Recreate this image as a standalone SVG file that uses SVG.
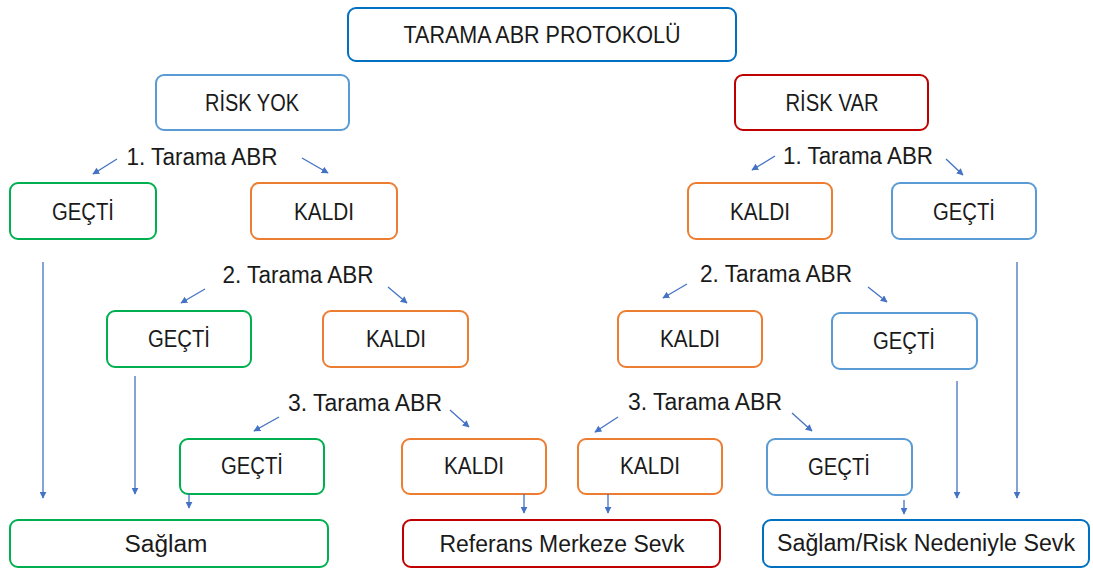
<svg xmlns="http://www.w3.org/2000/svg" width="1093" height="570" viewBox="0 0 1093 570">
<defs>
<marker id="ah" viewBox="0 0 10 10" refX="9" refY="5" markerWidth="7" markerHeight="7" markerUnits="userSpaceOnUse" orient="auto">
<path d="M0,0 L10,5 L0,10 z" fill="#4472C4"/>
</marker>
<style>
.box{fill:#fff;stroke-width:2;}
.dk{stroke:#0070C0;}
.lb{stroke:#5B9BD5;}
.rd{stroke:#C00000;}
.gr{stroke:#00B050;}
.or{stroke:#ED7D31;}
text{font-family:"Liberation Sans",Arial,sans-serif;font-size:23px;fill:#1a1a1a;text-anchor:middle;dominant-baseline:central;}
.c line{stroke:#4472C4;stroke-width:1.3;marker-end:url(#ah);}
</style>
</defs>
<rect width="1093" height="570" fill="#fff"/>
<g id="protokol"><rect class="box dk" x="348" y="8" width="388" height="53" rx="8"/><text x="542" y="35" textLength="277" lengthAdjust="spacingAndGlyphs">TARAMA ABR PROTOKOLÜ</text></g>
<g id="riskyok"><rect class="box lb" x="156" y="75" width="193" height="55" rx="8"/><text x="252" y="103" textLength="94" lengthAdjust="spacingAndGlyphs">RİSK YOK</text></g>
<g id="riskvar"><rect class="box rd" x="735" y="75" width="193" height="55" rx="8"/><text x="832" y="103" textLength="93" lengthAdjust="spacingAndGlyphs">RİSK VAR</text></g>

<g id="l1gecti"><rect class="box gr" x="10" y="183" width="146" height="56" rx="8"/><text x="83" y="212" textLength="62" lengthAdjust="spacingAndGlyphs">GEÇTİ</text></g>
<g id="l1kaldi"><rect class="box or" x="251" y="183" width="146" height="56" rx="8"/><text x="324" y="212" textLength="60" lengthAdjust="spacingAndGlyphs">KALDI</text></g>
<g id="r1kaldi"><rect class="box or" x="688" y="183" width="144" height="56" rx="8"/><text x="760" y="212" textLength="60" lengthAdjust="spacingAndGlyphs">KALDI</text></g>
<g id="r1gecti"><rect class="box lb" x="892" y="183" width="144" height="56" rx="8"/><text x="964" y="212" textLength="62" lengthAdjust="spacingAndGlyphs">GEÇTİ</text></g>

<g id="l2gecti"><rect class="box gr" x="107" y="311" width="144" height="56" rx="8"/><text x="179" y="339" textLength="62" lengthAdjust="spacingAndGlyphs">GEÇTİ</text></g>
<g id="l2kaldi"><rect class="box or" x="323" y="311" width="145" height="56" rx="8"/><text x="396" y="339" textLength="60" lengthAdjust="spacingAndGlyphs">KALDI</text></g>
<g id="r2kaldi"><rect class="box or" x="618" y="311" width="144" height="56" rx="8"/><text x="690" y="339" textLength="60" lengthAdjust="spacingAndGlyphs">KALDI</text></g>
<g id="r2gecti"><rect class="box lb" x="832" y="313" width="145" height="56" rx="8"/><text x="904" y="341" textLength="62" lengthAdjust="spacingAndGlyphs">GEÇTİ</text></g>

<g id="l3gecti"><rect class="box gr" x="180" y="439" width="144" height="55" rx="8"/><text x="252" y="466" textLength="62" lengthAdjust="spacingAndGlyphs">GEÇTİ</text></g>
<g id="l3kaldi"><rect class="box or" x="402" y="439" width="144" height="55" rx="8"/><text x="474" y="466" textLength="60" lengthAdjust="spacingAndGlyphs">KALDI</text></g>
<g id="r3kaldi"><rect class="box or" x="578" y="439" width="144" height="55" rx="8"/><text x="650" y="466" textLength="60" lengthAdjust="spacingAndGlyphs">KALDI</text></g>
<g id="r3gecti"><rect class="box lb" x="767" y="439" width="145" height="56" rx="8"/><text x="839" y="467" textLength="62" lengthAdjust="spacingAndGlyphs">GEÇTİ</text></g>

<g id="saglam"><rect class="box gr" x="10" y="520" width="318" height="47" rx="8"/><text x="166" y="544" textLength="83" lengthAdjust="spacingAndGlyphs">Sağlam</text></g>
<g id="referans"><rect class="box rd" x="403" y="520" width="317" height="47" rx="8"/><text x="562" y="544" textLength="245" lengthAdjust="spacingAndGlyphs">Referans Merkeze Sevk</text></g>
<g id="saglamrisk"><rect class="box dk" x="763" y="520" width="326" height="47" rx="8"/><text x="926" y="543" textLength="298" lengthAdjust="spacingAndGlyphs">Sağlam/Risk Nedeniyle Sevk</text></g>

<g id="labels">
<text x="202" y="157" textLength="151" lengthAdjust="spacingAndGlyphs">1. Tarama ABR</text>
<text x="858" y="156" textLength="150" lengthAdjust="spacingAndGlyphs">1. Tarama ABR</text>
<text x="298" y="275" textLength="151" lengthAdjust="spacingAndGlyphs">2. Tarama ABR</text>
<text x="776" y="274" textLength="152" lengthAdjust="spacingAndGlyphs">2. Tarama ABR</text>
<text x="365" y="403" textLength="154" lengthAdjust="spacingAndGlyphs">3. Tarama ABR</text>
<text x="705" y="402" textLength="154" lengthAdjust="spacingAndGlyphs">3. Tarama ABR</text>
</g>

<g id="connectors" class="c">
<line x1="117" y1="159" x2="93" y2="174"/>
<line x1="302" y1="158" x2="328" y2="173"/>
<line x1="775" y1="156" x2="752" y2="170"/>
<line x1="946" y1="159" x2="963" y2="175"/>
<line x1="43" y1="262" x2="43" y2="498"/>
<line x1="1017" y1="262" x2="1017" y2="498"/>
<line x1="205" y1="289" x2="181" y2="303"/>
<line x1="388" y1="287" x2="407" y2="303"/>
<line x1="687" y1="284" x2="663" y2="298"/>
<line x1="868" y1="287" x2="887" y2="302"/>
<line x1="135" y1="376" x2="135" y2="494"/>
<line x1="957" y1="381" x2="957" y2="498"/>
<line x1="279" y1="417" x2="254" y2="431"/>
<line x1="450" y1="410" x2="469" y2="427"/>
<line x1="618" y1="417" x2="595" y2="432"/>
<line x1="792" y1="413" x2="812" y2="431"/>
<line x1="189" y1="494" x2="189" y2="508"/>
<line x1="524" y1="494" x2="524" y2="513"/>
<line x1="608" y1="494" x2="608" y2="513"/>
<line x1="904" y1="500" x2="904" y2="514"/>
</g>
</svg>
